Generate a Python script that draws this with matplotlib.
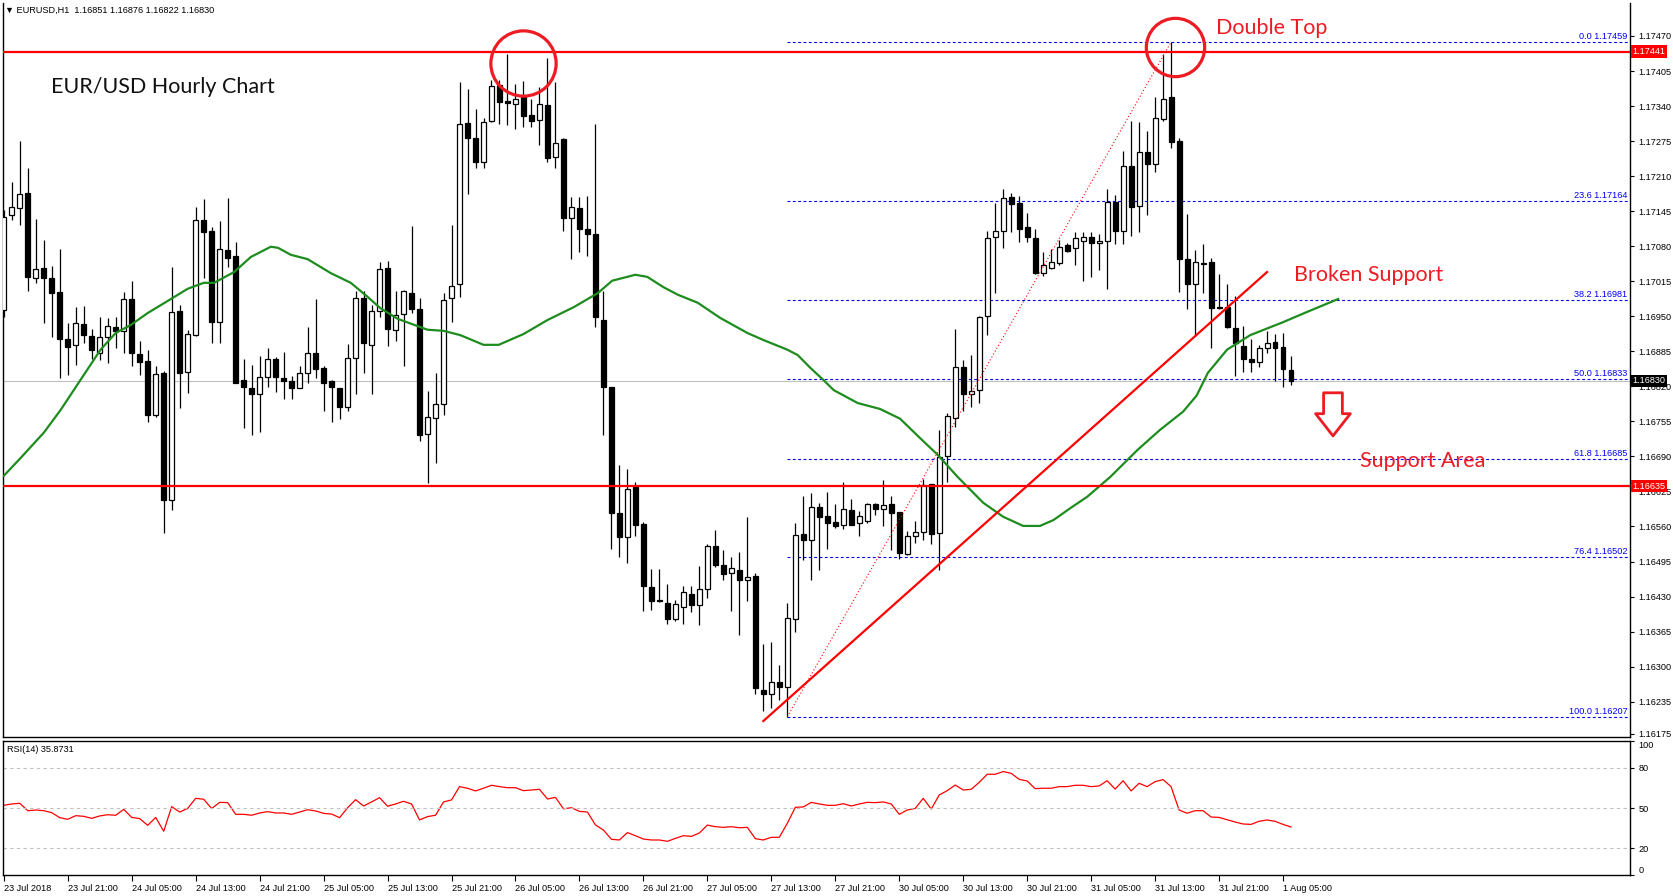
import numpy as np
import matplotlib.pyplot as plt
import matplotlib.transforms as mtransforms
from matplotlib import font_manager

# hourly EURUSD bars, 23 Jul 13:00 .. 1 Aug 06:00
open_ = [1.16962, 1.17137, 1.17150, 1.17178, 1.17021, 1.17039, 1.17021, 1.16995, 1.16907, 1.16896,
         1.16935, 1.16913, 1.16881, 1.16911, 1.16930, 1.16923, 1.16982, 1.16880, 1.16867, 1.16766,
         1.16844, 1.16609, 1.16960, 1.16846, 1.16915, 1.17129, 1.17108, 1.16940, 1.17073, 1.17062,
         1.16832, 1.16816, 1.16805, 1.16837, 1.16871, 1.16835, 1.16830, 1.16816, 1.16844, 1.16881,
         1.16854, 1.16830, 1.16816, 1.16781, 1.16872, 1.16983, 1.16896, 1.16960, 1.17039, 1.16925,
         1.16954, 1.16993, 1.16963, 1.16731, 1.16761, 1.16787, 1.16983, 1.17009, 1.17308, 1.17280,
         1.17236, 1.17312, 1.17379, 1.17349, 1.17343, 1.17356, 1.17323, 1.17314, 1.17342, 1.17245,
         1.17279, 1.17133, 1.17150, 1.17111, 1.17103, 1.16943, 1.16819, 1.16585, 1.16540, 1.16633,
         1.16564, 1.16448, 1.16424, 1.16418, 1.16389, 1.16411, 1.16434, 1.16415, 1.16444, 1.16524,
         1.16489, 1.16473, 1.16479, 1.16460, 1.16468, 1.16257, 1.16249, 1.16271, 1.16262, 1.16388,
         1.16546, 1.16534, 1.16596, 1.16580, 1.16569, 1.16562, 1.16591, 1.16566, 1.16571, 1.16601,
         1.16592, 1.16601, 1.16586, 1.16509, 1.16542, 1.16549, 1.16638, 1.16547, 1.16690, 1.16761,
         1.16855, 1.16806, 1.16813, 1.16951, 1.17097, 1.17109, 1.17171, 1.17161, 1.17115, 1.17095,
         1.17031, 1.17039, 1.17049, 1.17082, 1.17076, 1.17090, 1.17097, 1.17085, 1.17090, 1.17162,
         1.17109, 1.17229, 1.17155, 1.17255, 1.17232, 1.17316, 1.17356, 1.17275, 1.17056, 1.17009,
         1.17048, 1.17050, 1.16967, 1.16967, 1.16928, 1.16895, 1.16871, 1.16866, 1.16891, 1.16902,
         1.16893, 1.16851]
high_ = [1.17147, 1.17199, 1.17275, 1.17225, 1.17131, 1.17092, 1.17043, 1.17075, 1.16937, 1.16968,
         1.16969, 1.16926, 1.16948, 1.16946, 1.16948, 1.16995, 1.17016, 1.16905, 1.16888, 1.16858,
         1.16849, 1.17042, 1.16970, 1.16925, 1.17152, 1.17168, 1.17116, 1.17127, 1.17169, 1.17087,
         1.16871, 1.16860, 1.16876, 1.16891, 1.16875, 1.16883, 1.16839, 1.16858, 1.16930, 1.16982,
         1.16858, 1.16832, 1.16816, 1.16899, 1.16996, 1.16996, 1.16970, 1.17050, 1.17053, 1.16996,
         1.16998, 1.17118, 1.16983, 1.16811, 1.16844, 1.16994, 1.17119, 1.17385, 1.17371, 1.17335,
         1.17317, 1.17388, 1.17388, 1.17437, 1.17381, 1.17387, 1.17353, 1.17375, 1.17429, 1.17384,
         1.17281, 1.17171, 1.17171, 1.17174, 1.17307, 1.16997, 1.16819, 1.16674, 1.16666, 1.16642,
         1.16569, 1.16481, 1.16481, 1.16453, 1.16424, 1.16450, 1.16450, 1.16487, 1.16527, 1.16554,
         1.16517, 1.16503, 1.16512, 1.16578, 1.16474, 1.16342, 1.16345, 1.16303, 1.16418, 1.16566,
         1.16617, 1.16622, 1.16603, 1.16624, 1.16602, 1.16642, 1.16611, 1.16589, 1.16604, 1.16604,
         1.16646, 1.16617, 1.16586, 1.16552, 1.16570, 1.16648, 1.16638, 1.16739, 1.16770, 1.16926,
         1.16869, 1.16878, 1.16951, 1.17108, 1.17161, 1.17187, 1.17179, 1.17173, 1.17142, 1.17111,
         1.17069, 1.17074, 1.17092, 1.17085, 1.17107, 1.17106, 1.17106, 1.17102, 1.17186, 1.17175,
         1.17257, 1.17312, 1.17310, 1.17294, 1.17356, 1.17436, 1.17458, 1.17280, 1.17140, 1.17073,
         1.17084, 1.17058, 1.17029, 1.17009, 1.16988, 1.16932, 1.16908, 1.16897, 1.16923, 1.16917,
         1.16919, 1.16876]
low_ = [1.16949, 1.17129, 1.17119, 1.16996, 1.17011, 1.16937, 1.16912, 1.16836, 1.16841, 1.16860,
        1.16900, 1.16870, 1.16869, 1.16864, 1.16891, 1.16881, 1.16858, 1.16841, 1.16753, 1.16764,
        1.16548, 1.16591, 1.16780, 1.16807, 1.16913, 1.17021, 1.16901, 1.16900, 1.17041, 1.16827,
        1.16743, 1.16729, 1.16736, 1.16819, 1.16810, 1.16796, 1.16796, 1.16816, 1.16827, 1.16835,
        1.16775, 1.16753, 1.16759, 1.16775, 1.16806, 1.16845, 1.16806, 1.16948, 1.16895, 1.16905,
        1.16857, 1.16956, 1.16719, 1.16640, 1.16677, 1.16766, 1.16940, 1.16986, 1.17176, 1.17225,
        1.17225, 1.17310, 1.17307, 1.17305, 1.17297, 1.17302, 1.17301, 1.17267, 1.17236, 1.17225,
        1.17109, 1.17056, 1.17070, 1.17062, 1.16930, 1.16729, 1.16518, 1.16504, 1.16492, 1.16543,
        1.16404, 1.16405, 1.16419, 1.16379, 1.16385, 1.16379, 1.16401, 1.16377, 1.16427, 1.16484,
        1.16461, 1.16404, 1.16359, 1.16422, 1.16249, 1.16218, 1.16224, 1.16238, 1.16206, 1.16365,
        1.16498, 1.16460, 1.16479, 1.16518, 1.16558, 1.16555, 1.16562, 1.16543, 1.16567, 1.16581,
        1.16560, 1.16517, 1.16499, 1.16507, 1.16530, 1.16535, 1.16527, 1.16479, 1.16643, 1.16744,
        1.16775, 1.16782, 1.16789, 1.16915, 1.16993, 1.17076, 1.17106, 1.17087, 1.17087, 1.17028,
        1.17025, 1.17037, 1.17046, 1.17069, 1.17046, 1.17016, 1.17022, 1.17035, 1.17000, 1.17084,
        1.17084, 1.17098, 1.17107, 1.17137, 1.17218, 1.17313, 1.17263, 1.16995, 1.16963, 1.16915,
        1.16993, 1.16891, 1.16963, 1.16928, 1.16840, 1.16847, 1.16847, 1.16855, 1.16881, 1.16830,
        1.16819, 1.16822]
close_ = [1.17135, 1.17152, 1.17176, 1.17022, 1.17037, 1.17021, 1.16994, 1.16907, 1.16893, 1.16937,
          1.16915, 1.16887, 1.16911, 1.16932, 1.16923, 1.16982, 1.16881, 1.16866, 1.16766, 1.16842,
          1.16609, 1.16957, 1.16844, 1.16917, 1.17129, 1.17107, 1.16940, 1.17074, 1.17059, 1.16827,
          1.16818, 1.16805, 1.16837, 1.16870, 1.16837, 1.16829, 1.16816, 1.16844, 1.16881, 1.16853,
          1.16827, 1.16818, 1.16781, 1.16872, 1.16983, 1.16900, 1.16959, 1.17037, 1.16926, 1.16952,
          1.16996, 1.16963, 1.16730, 1.16764, 1.16787, 1.16980, 1.17007, 1.17306, 1.17280, 1.17236,
          1.17310, 1.17378, 1.17348, 1.17345, 1.17354, 1.17322, 1.17313, 1.17343, 1.17244, 1.17271,
          1.17133, 1.17153, 1.17111, 1.17102, 1.16948, 1.16819, 1.16585, 1.16540, 1.16629, 1.16562,
          1.16450, 1.16421, 1.16421, 1.16389, 1.16416, 1.16438, 1.16415, 1.16444, 1.16524, 1.16489,
          1.16472, 1.16483, 1.16460, 1.16466, 1.16261, 1.16249, 1.16271, 1.16262, 1.16390, 1.16544,
          1.16534, 1.16596, 1.16578, 1.16567, 1.16561, 1.16592, 1.16562, 1.16580, 1.16602, 1.16592,
          1.16600, 1.16585, 1.16510, 1.16543, 1.16549, 1.16637, 1.16546, 1.16688, 1.16765, 1.16855,
          1.16806, 1.16811, 1.16949, 1.17095, 1.17108, 1.17169, 1.17158, 1.17112, 1.17097, 1.17031,
          1.17046, 1.17050, 1.17078, 1.17072, 1.17095, 1.17097, 1.17085, 1.17090, 1.17162, 1.17109,
          1.17229, 1.17152, 1.17254, 1.17232, 1.17317, 1.17354, 1.17274, 1.17056, 1.17009, 1.17050,
          1.17047, 1.16966, 1.16966, 1.16930, 1.16900, 1.16871, 1.16866, 1.16891, 1.16900, 1.16892,
          1.16852, 1.16830]

# green moving average (shifted, runs past the last bar)
ma_bar = [0, 2.1, 5, 7.1, 9.6, 12.1, 14, 15.9, 18, 20.9, 23, 25, 26.3, 28.8, 30.9, 33.4, 34.3,
          35.9, 38, 40.9, 43.4, 45.5, 47.1, 49.3, 53, 55, 57.1, 60, 61.9, 65, 68, 71.3, 74.3,
          76.1, 79, 80.5, 82.5, 84.3, 86.8, 89.6, 93, 95, 98, 99.3, 100.9, 102.5, 103.8, 106.8,
          109.6, 112.1, 114.6, 116.8, 119.3, 122.5, 125, 127.5, 129.6, 131.3, 133.4, 135.5,
          138.4, 141.8, 144.6, 147.5, 149.2, 150.6, 153, 155.9, 160, 163, 166.9]
ma_price = [1.16654, 1.16687, 1.16734, 1.16776, 1.16832, 1.16888, 1.16919, 1.16934, 1.16956,
            1.16982, 1.17001, 1.17012, 1.17012, 1.17032, 1.17060, 1.17079, 1.17077, 1.17064,
            1.17056, 1.17030, 1.17012, 1.16986, 1.16965, 1.16945, 1.16925, 1.16923, 1.16915,
            1.16897, 1.16897, 1.16917, 1.16943, 1.16967, 1.16993, 1.17016, 1.17027, 1.17023,
            1.17004, 1.16990, 1.16975, 1.16947, 1.16919, 1.16906, 1.16888, 1.16878, 1.16854,
            1.16832, 1.16813, 1.16789, 1.16778, 1.16760, 1.16724, 1.16693, 1.16652, 1.16604,
            1.16578, 1.16561, 1.16561, 1.16572, 1.16594, 1.16615, 1.16652, 1.16702, 1.16739,
            1.16773, 1.16803, 1.16845, 1.16888, 1.16915, 1.16939, 1.16958, 1.16982]

rsi = [52.0, 53.0, 53.5, 48.0, 48.5, 48.0, 46.5, 42.8, 41.6, 44.3,
       43.8, 42.3, 44.1, 45.0, 44.6, 49.0, 43.0, 42.1, 37.1, 43.0,
       32.7, 51.0, 47.0, 49.7, 57.2, 56.5, 49.6, 54.2, 54.0, 45.3,
       45.3, 44.6, 46.3, 47.3, 46.3, 46.3, 45.3, 47.0, 48.7, 47.8,
       46.0, 45.5, 42.8, 50.2, 56.2, 51.5, 54.5, 57.7, 51.3, 53.0,
       55.0, 53.0, 41.1, 43.6, 44.6, 54.5, 56.0, 65.9, 64.7, 62.7,
       64.7, 66.9, 65.9, 65.1, 65.1, 62.9, 63.4, 63.9, 56.7, 57.9,
       49.4, 50.2, 47.5, 47.0, 37.4, 33.6, 26.7, 26.2, 31.7, 29.4,
       26.9, 26.2, 26.2, 25.2, 27.4, 29.4, 28.9, 31.4, 37.3, 36.1,
       35.6, 36.1, 35.3, 35.6, 27.2, 26.2, 28.2, 28.2, 38.6, 50.5,
       50.8, 54.2, 53.0, 52.0, 52.0, 53.2, 51.5, 53.0, 54.2, 54.0,
       54.5, 53.0, 45.3, 48.5, 49.7, 57.2, 49.2, 59.7, 62.9, 67.1,
       63.4, 63.9, 69.1, 75.1, 75.1, 77.1, 75.8, 71.3, 70.1, 64.4,
       64.7, 64.7, 65.9, 65.9, 66.9, 66.9, 65.9, 66.4, 70.3, 64.1,
       70.3, 62.7, 68.4, 65.9, 69.6, 71.1, 65.9, 48.5, 46.1, 48.0,
       48.0, 43.3, 43.0, 41.3, 39.6, 38.1, 37.8, 40.1, 41.1, 40.1,
       37.8, 35.87]

time_labels = ["23 Jul 2018", "23 Jul 21:00", "24 Jul 05:00", "24 Jul 13:00", "24 Jul 21:00",
               "25 Jul 05:00", "25 Jul 13:00", "25 Jul 21:00", "26 Jul 05:00", "26 Jul 13:00",
               "26 Jul 21:00", "27 Jul 05:00", "27 Jul 13:00", "27 Jul 21:00", "30 Jul 05:00",
               "30 Jul 13:00", "30 Jul 21:00", "31 Jul 05:00", "31 Jul 13:00", "31 Jul 21:00",
               "1 Aug 05:00"]

resistance = 1.17441
support = 1.16635
fib_low_bar, fib_low = 98, 1.16207
fib_high_bar, fib_high = 146, 1.17459
fib_ratios = [0.0, 23.6, 38.2, 50.0, 61.8, 76.4, 100.0]
trend_bars = [95, 158]
trend_prices = [1.16199, 1.17032]

installed = {f.name for f in font_manager.fontManager.ttflist}
if "Liberation Sans Narrow" in installed:
    small_font, small_size = "Liberation Sans Narrow", 7.8
else:
    small_font, small_size = "Liberation Sans", 6.6
note_font = "Lato"
note_red = "#ED1C24"

o = np.array(open_)
h = np.array(high_)
l = np.array(low_)
c = np.array(close_)
bars = np.arange(len(c))

fig = plt.figure(figsize=(16.73, 8.96), dpi=100)
ax = fig.add_axes([3 / 1673, 159 / 896, 1627 / 1673, 734 / 896])
ax2 = fig.add_axes([3 / 1673, 20.8 / 896, 1627 / 1673, 134.4 / 896])

x_right = 203.4
ax.set_xlim(-0.1, x_right)
ax.set_ylim(1.161694, 1.175312)

# candles
ax.vlines(bars, l, h, color="black", lw=0.9, zorder=3)
bull = c > o
bear = ~bull
ax.bar(bars[bull], c[bull] - o[bull], bottom=o[bull], width=0.62,
       facecolor="white", edgecolor="black", linewidth=0.9, zorder=4)
ax.bar(bars[bear], np.maximum(o[bear] - c[bear], 1e-6), bottom=c[bear], width=0.62,
       facecolor="black", edgecolor="black", linewidth=0.9, zorder=4)

# moving average
ax.plot(ma_bar, ma_price, color="#1E8C1E", lw=1.6, zorder=5)

# last price line
ax.axhline(c[-1], color="#C0C0C0", lw=0.8, zorder=1)

# horizontal levels
ax.axhline(resistance, color="red", lw=1.6, zorder=6)
ax.axhline(support, color="red", lw=1.6, zorder=6)

# fibonacci retracement
for r in fib_ratios:
    level = fib_high - r / 100 * (fib_high - fib_low)
    ax.hlines(level, fib_low_bar, x_right, color="blue", lw=0.8,
              linestyles=(0, (2.6, 2.2)), zorder=2)
    ax.text(x_right - 0.3, level + 0.00002, "%.1f %.5f" % (r, level), color="blue",
            ha="right", va="bottom", fontsize=small_size, family=small_font, zorder=7)
ax.plot([fib_low_bar, fib_high_bar], [fib_low, fib_high], color="red", lw=0.8,
        ls=(0, (1, 2)), zorder=6)

# support trend line
ax.plot(trend_bars, trend_prices, color="red", lw=1.6, zorder=6)

# circles on the two tops
ax.plot([65], [1.17420], marker="o", ms=47, mfc="none", mec=note_red, mew=2.3, zorder=7)
ax.plot([146.5], [1.17450], marker="o", ms=42, mfc="none", mec=note_red, mew=2.3, zorder=7)

# notes
ax.text(151.6, 1.17485, "Double Top", color=note_red, fontsize=15.5, family=note_font,
        va="center", ha="left", zorder=8)
ax.text(5.9, 1.17375, "EUR/USD Hourly Chart", color="#111111", fontsize=15.5,
        family=note_font, va="center", ha="left", zorder=8)
ax.text(161.4, 1.17027, "Broken Support", color=note_red, fontsize=15.5, family=note_font,
        va="center", ha="left", zorder=8)
ax.text(169.6, 1.16682, "Support Area", color=note_red, fontsize=15.5, family=note_font,
        va="center", ha="left", zorder=8)
ax.annotate("", xy=(166.25, 1.16728), xytext=(166.25, 1.16808),
            arrowprops=dict(arrowstyle="simple,head_length=1.6,head_width=2.5,tail_width=1.35",
                            mutation_scale=10, fc="white", ec=note_red, lw=2,
                            shrinkA=0, shrinkB=0), zorder=8)

# price axis
price_ticks = [1.17470 - 0.00065 * k for k in range(20)] + [1.16175]
ax.yaxis.tick_right()
ax.set_yticks(price_ticks)
ax.set_yticklabels(["%.5f" % p for p in price_ticks], family=small_font, fontsize=small_size)
ax.tick_params(axis="y", direction="out", length=3, width=0.8, pad=3)
ax.set_xticks([])
for side in ["left", "right", "bottom"]:
    ax.spines[side].set_linewidth(1.0)
ax.spines["top"].set_visible(False)

side_tf = mtransforms.blended_transform_factory(ax.transAxes, ax.transData)
for val, bg in [(resistance, "red"), (support, "red"), (c[-1], "black")]:
    ax.text(1.0016, val, "%.5f" % val, transform=side_tf, color="white", ha="left",
            va="center", family=small_font, fontsize=small_size, clip_on=False,
            bbox=dict(boxstyle="square,pad=0.18", fc=bg, ec="none"), zorder=9)

# RSI panel
ax2.set_xlim(-0.1, x_right)
ax2.set_ylim(0, 100)
ax2.plot(bars, rsi, color="red", lw=0.9)
for lv in [80, 50, 20]:
    ax2.axhline(lv, color="#C0C0C0", lw=0.8, ls=(0, (3, 3)))
ax2.yaxis.tick_right()
ax2.set_yticks([0, 20, 50, 80, 100])
ax2.set_yticklabels(["0", "20", "50", "80", "100"], family=small_font, fontsize=small_size)
ylabs = ax2.get_yticklabels()
ylabs[0].set_va("bottom")
ylabs[-1].set_va("top")
ax2.tick_params(axis="y", direction="out", length=3, width=0.8, pad=3)
ax2.set_xticks(np.arange(0, len(c), 8))
ax2.set_xticklabels(time_labels, family=small_font, fontsize=small_size, ha="left")
ax2.tick_params(axis="x", direction="out", length=4, width=0.8, pad=2)
for side in ax2.spines:
    ax2.spines[side].set_linewidth(1.0)

fig.text(5 / 1673, 1 - 10 / 896,
         "\u25BC EURUSD,H1  %.5f %.5f %.5f %.5f" % (o[-1], h[-1], l[-1], c[-1]),
         family=[small_font, "DejaVu Sans"], fontsize=small_size, va="center", ha="left")
fig.text(7 / 1673, 1 - 749 / 896, "RSI(14) %.4f" % 35.8731,
         family=small_font, fontsize=small_size, va="center", ha="left")

fig.savefig("out.png", dpi=100, facecolor="white")
